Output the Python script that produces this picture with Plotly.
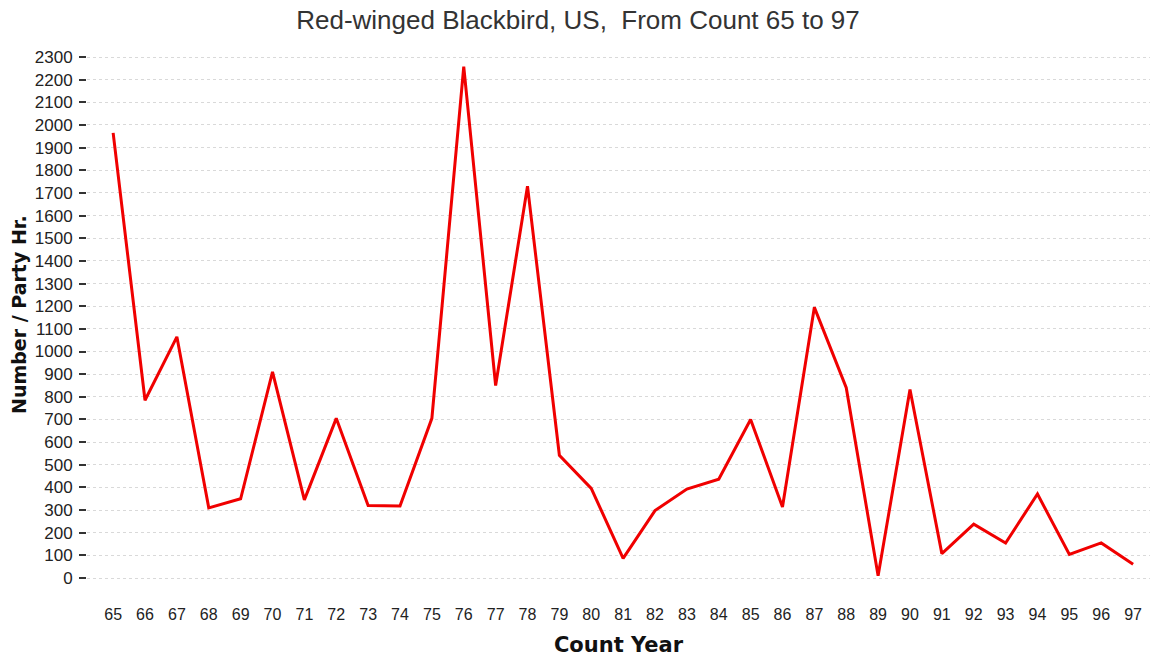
import plotly.graph_objects as go

years = list(range(65, 98))
tick_labels = [str(y) for y in years]
values = [1965, 785, 1065, 310, 350, 910, 345, 705, 320, 318, 705, 2258, 850, 1730,
          542, 396, 87, 298, 393, 436, 700, 314, 1195, 840, 10, 832, 108, 238, 155,
          371, 104, 155, 61]
y_ticks = list(range(0, 2301, 100))

font_family = "Liberation Sans, Arial, sans-serif"
bold_family = "DejaVu Sans, Verdana, sans-serif"

W, H = 1156, 657
ML, MR, MT, MB = 87, 6, 50, 59

fig = go.Figure()
fig.add_trace(go.Scatter(
    x=years, y=values, mode="lines",
    line=dict(color="#f00000", width=3),
    showlegend=False,
))

fig.update_layout(
    width=W, height=H,
    margin=dict(l=ML, r=MR, t=MT, b=MB),
    paper_bgcolor="white", plot_bgcolor="white",
    font=dict(family=font_family, color="#222222"),
    title=dict(
        text="Red-winged Blackbird, US,  From Count 65 to 97",
        x=0.5, xanchor="center", y=1 - 20 / H, yanchor="middle",
        font=dict(size=26, color="#333333", family=font_family),
    ),
    annotations=[dict(
        text="<b>Number / Party Hr.</b>", textangle=-90,
        xref="paper", yref="paper",
        x=(19 - ML) / (W - ML - MR), y=(H - MB - 315) / (H - MT - MB),
        xanchor="center", yanchor="middle", showarrow=False,
        font=dict(size=19, color="#111111", family=bold_family),
    )],
)

fig.update_xaxes(
    range=[64.18, 97.53], automargin=False,
    tickmode="array", tickvals=years, ticktext=tick_labels,
    tickfont=dict(size=16, color="#222222"),
    ticks="", showgrid=False, zeroline=False, showline=False,
    ticklabelstandoff=5,
    title=dict(text="<b>Count Year</b>", font=dict(size=21, color="#111111", family=bold_family), standoff=16),
)

fig.update_yaxes(
    range=[-88, 2331], automargin=False,
    tickmode="array", tickvals=y_ticks, ticktext=[str(v) for v in y_ticks],
    tickfont=dict(size=17, color="#222222"),
    ticks="outside", ticklen=7, tickwidth=2, tickcolor="#333333",
    ticklabelstandoff=3,
    showgrid=True, gridcolor="#d9d9d9", griddash="dot", gridwidth=1,
    zeroline=False, showline=False,
)

fig.write_html("out.html", config={"displayModeBar": False},
               post_script="document.body.style.margin='0';")
